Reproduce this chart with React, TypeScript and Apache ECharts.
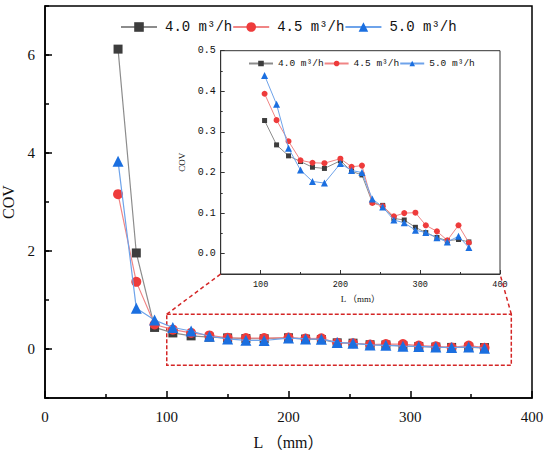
import React, { useEffect, useRef } from "react";
import * as echarts from "echarts";

const lengthsMm = [60, 75, 90, 105, 120, 135, 150, 165, 180, 200, 214, 227, 240, 253, 267, 280, 294, 307, 321, 334, 348, 361];
const cov40 = [6.12, 1.96, 0.44, 0.328, 0.268, 0.241, 0.227, 0.213, 0.21, 0.229, 0.203, 0.194, 0.126, 0.119, 0.087, 0.083, 0.065, 0.052, 0.04, 0.032, 0.035, 0.029];
const cov45 = [3.16, 1.37, 0.5, 0.394, 0.329, 0.277, 0.23, 0.224, 0.223, 0.234, 0.214, 0.217, 0.125, 0.117, 0.092, 0.1, 0.101, 0.07, 0.055, 0.033, 0.07, 0.027];
const cov50 = [3.83, 0.83, 0.59, 0.439, 0.368, 0.26, 0.206, 0.178, 0.174, 0.222, 0.205, 0.2, 0.135, 0.115, 0.083, 0.076, 0.058, 0.052, 0.039, 0.029, 0.043, 0.015];
const seriesNames = ["4.0 m³/h", "4.5 m³/h", "5.0 m³/h"];
const insetStartIndex = 3;
// zoom box (data coords of the main chart): [xMin, xMax, yMin, yMax]
const zoomBox = [100, 383, -0.33, 0.71];
const mainXTicks = [0, 100, 200, 300, 400];
const mainYTicks = [0, 2, 4, 6];
const insetXTicks = [100, 200, 300, 400];
const insetYTicks = [0, 0.1, 0.2, 0.3, 0.4, 0.5];

const SERIF = "'Liberation Serif', 'Noto Sans CJK SC', serif";
const MONO = "'Liberation Mono', monospace";

const styles = [
  { symbol: "rect", marker: "#3d3d3d", line: "#8c8c8c", main: 9, inset: 5 },
  { symbol: "circle", marker: "#ee3b3b", line: "#f08585", main: 10, inset: 6 },
  { symbol: "triangle", marker: "#1b6fe0", line: "#6ea3ea", main: 11, inset: 7 },
];
const values = [cov40, cov45, cov50];

export default function App() {
  const ref = useRef<HTMLDivElement>(null);
  useEffect(() => {
    if (!ref.current) return;
    const chart = echarts.init(ref.current, undefined, { renderer: "svg" });
    const mainSeries = values.map((vals, i) => ({
      type: "line",
      name: seriesNames[i],
      xAxisIndex: 0,
      yAxisIndex: 0,
      data: lengthsMm.map((x, j) => [x, vals[j]]),
      symbol: styles[i].symbol,
      symbolSize: styles[i].main,
      itemStyle: { color: styles[i].marker },
      lineStyle: { color: styles[i].line, width: 1.2 },
      z: 3 + i,
      markArea:
        i === 0
          ? {
              silent: true,
              itemStyle: { color: "transparent", borderColor: "#d42626", borderWidth: 1.5, borderType: [4, 2] },
              label: { show: false },
              data: [[{ xAxis: zoomBox[0], yAxis: zoomBox[3] }, { xAxis: zoomBox[1], yAxis: zoomBox[2] }]],
            }
          : undefined,
    }));
    const insetSeries = values.map((vals, i) => ({
      type: "line",
      name: seriesNames[i],
      xAxisIndex: 1,
      yAxisIndex: 2,
      data: lengthsMm.slice(insetStartIndex).map((x, j) => [x, vals[j + insetStartIndex]]),
      symbol: styles[i].symbol,
      symbolSize: styles[i].inset,
      itemStyle: { color: styles[i].marker },
      lineStyle: { color: styles[i].line, width: 1 },
      z: 3 + i,
    }));
    const mainTickStyle = { color: "#000", width: 1.5 };
    const insetTickStyle = { color: "#333", width: 1 };
    const option: any = {
      animation: false,
      grid: [
        { left: 45, top: 6, width: 487, height: 392, show: true, borderColor: "#000", borderWidth: 1.5, outerBoundsMode: "none", containLabel: false },
        { left: 220.7, top: 50.7, width: 279.3, height: 223.3, show: true, borderColor: "#333", borderWidth: 1, backgroundColor: "#fff", outerBoundsMode: "none", containLabel: false },
      ],
      legend: [
        {
          data: seriesNames,
          left: 120,
          top: 20,
          padding: 0,
          itemGap: 0,
          itemWidth: 36,
          itemHeight: 12,
          textStyle: { fontFamily: MONO, fontSize: 14, color: "#111", padding: [0, 0, 0, 3] },
        },
        {
          data: seriesNames,
          left: 248,
          top: 58.5,
          padding: 0,
          itemGap: 0,
          itemWidth: 24,
          itemHeight: 7,
          textStyle: { fontFamily: MONO, fontSize: 9.5, color: "#111" },
        },
      ],
      xAxis: [
        {
          gridIndex: 0,
          type: "value",
          position: "bottom",
          min: mainXTicks[0],
          max: mainXTicks[mainXTicks.length - 1],
          interval: 100,
          axisLine: { onZero: false, lineStyle: mainTickStyle },
          axisTick: { inside: true, length: 7, lineStyle: mainTickStyle },
          minorTick: { show: true, splitNumber: 2, length: 4, lineStyle: mainTickStyle },
          splitLine: { show: false },
          axisLabel: { margin: 11, fontSize: 15, color: "#111", fontFamily: SERIF },
          name: "L （mm）",
          nameLocation: "middle",
          nameGap: 36,
          nameTextStyle: { fontSize: 16, color: "#111", fontFamily: SERIF },
        },
        {
          gridIndex: 1,
          type: "value",
          position: "bottom",
          min: 50,
          max: 400,
          interval: 50,
          axisLine: { onZero: false, lineStyle: insetTickStyle },
          axisTick: { inside: true, length: 2, lineStyle: insetTickStyle },
          splitLine: { show: false },
          axisLabel: {
            margin: 6,
            fontSize: 8.5,
            color: "#111",
            fontFamily: MONO,
            formatter: (v: number) => (insetXTicks.includes(Math.round(v)) ? String(Math.round(v)) : ""),
          },
          name: "L （mm）",
          nameLocation: "middle",
          nameGap: 20,
          nameTextStyle: { fontSize: 9, color: "#111", fontFamily: SERIF },
        },
        {
          gridIndex: 1,
          type: "value",
          position: "bottom",
          min: 50,
          max: 400,
          interval: 50,
          axisLine: { show: false, onZero: false },
          axisTick: { inside: true, length: 4, lineStyle: insetTickStyle, customValues: insetXTicks },
          axisLabel: { show: false },
          splitLine: { show: false },
        },
      ],
      yAxis: [
        {
          gridIndex: 0,
          type: "value",
          position: "left",
          min: -1,
          max: 7,
          interval: 1,
          axisLine: { show: true, onZero: false, lineStyle: mainTickStyle },
          axisTick: { show: true, inside: true, length: 4, lineStyle: mainTickStyle },
          splitLine: { show: false },
          axisLabel: {
            margin: 10,
            fontSize: 15,
            color: "#111",
            fontFamily: SERIF,
            formatter: (v: number) => (mainYTicks.includes(Math.round(v)) ? String(Math.round(v)) : ""),
          },
          name: "COV",
          nameLocation: "middle",
          nameGap: 22,
          nameTextStyle: { fontSize: 16, color: "#111", fontFamily: SERIF },
        },
        {
          gridIndex: 0,
          type: "value",
          position: "left",
          min: -1,
          max: 7,
          interval: 1,
          axisLine: { show: false, onZero: false },
          axisTick: { show: true, inside: true, length: 7, lineStyle: mainTickStyle, customValues: mainYTicks },
          axisLabel: { show: false },
          splitLine: { show: false },
        },
        {
          gridIndex: 1,
          type: "value",
          position: "left",
          min: -0.05,
          max: 0.5,
          interval: 0.05,
          axisLine: { show: true, onZero: false, lineStyle: insetTickStyle },
          axisTick: { show: true, inside: true, length: 2, lineStyle: insetTickStyle },
          splitLine: { show: false },
          axisLabel: {
            margin: 5,
            fontSize: 10,
            color: "#111",
            fontFamily: MONO,
            formatter: (v: number) => {
              const t = Math.round(v * 100);
              return t >= 0 && t % 10 === 0 ? (t / 100).toFixed(1) : "";
            },
          },
          name: "COV",
          nameLocation: "middle",
          nameGap: 23,
          nameTextStyle: { fontSize: 9, color: "#111", fontFamily: SERIF },
        },
        {
          gridIndex: 1,
          type: "value",
          position: "left",
          min: -0.05,
          max: 0.5,
          interval: 0.05,
          axisLine: { show: false, onZero: false },
          axisTick: { show: true, inside: true, length: 4, lineStyle: insetTickStyle, customValues: insetYTicks },
          axisLabel: { show: false },
          splitLine: { show: false },
        },
      ],
      series: [...mainSeries, ...insetSeries],
    };
    chart.setOption(option);
    const a1 = chart.convertToPixel({ xAxisIndex: 0, yAxisIndex: 0 }, [zoomBox[0], zoomBox[3]]) as number[];
    const a2 = chart.convertToPixel({ xAxisIndex: 0, yAxisIndex: 0 }, [zoomBox[1], zoomBox[3]]) as number[];
    const b1 = chart.convertToPixel({ xAxisIndex: 1, yAxisIndex: 2 }, [50, -0.05]) as number[];
    const b2 = chart.convertToPixel({ xAxisIndex: 1, yAxisIndex: 2 }, [400, -0.05]) as number[];
    const dash = { stroke: "#d42626", lineWidth: 1.5, lineDash: [4, 3] };
    chart.setOption({
      graphic: [
        { type: "line", shape: { x1: a1[0], y1: a1[1], x2: b1[0], y2: b1[1] }, style: dash, z: 10 },
        { type: "line", shape: { x1: a2[0], y1: a2[1], x2: b2[0], y2: b2[1] }, style: dash, z: 10 },
      ],
    });
    return () => chart.dispose();
  }, []);
  return <div ref={ref} style={{ position: "absolute", left: 0, top: 0, width: 550, height: 456, background: "#fff" }} />;
}
